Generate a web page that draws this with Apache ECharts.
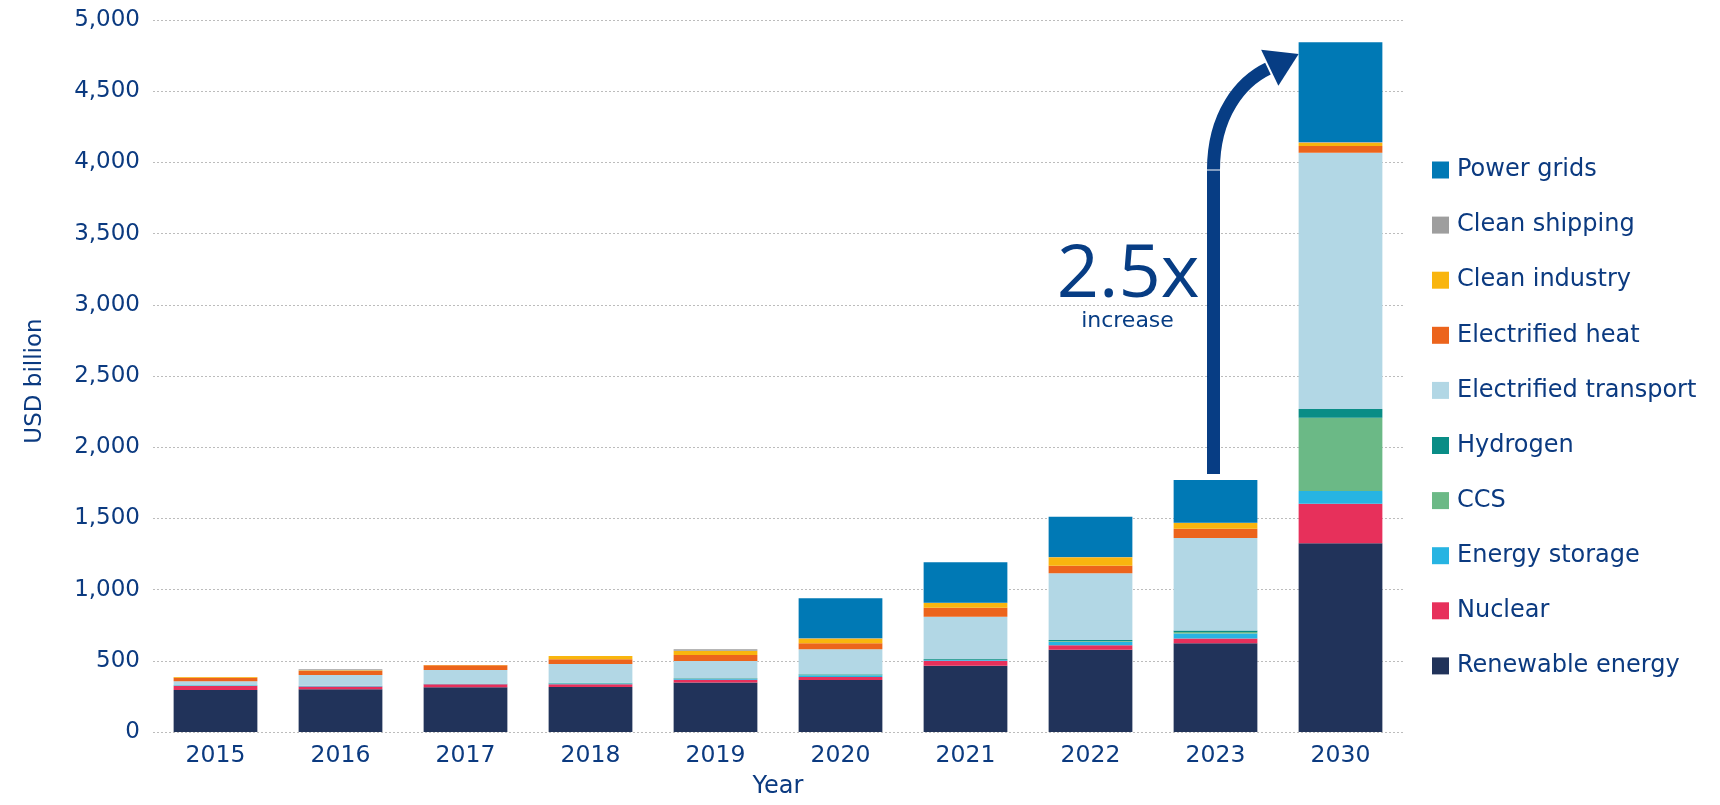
<!DOCTYPE html>
<html>
<head>
<meta charset="utf-8">
<script src="https://cdn.jsdelivr.net/npm/echarts@6/dist/echarts.min.js"></script>
<style>
html,body{margin:0;padding:0;background:#fff;}
#c{width:1720px;height:805px;}
</style>
</head>
<body>
<div id="c"></div>
<script>
// ---- data ----
const years = ['2015','2016','2017','2018','2019','2020','2021','2022','2023','2030'];
const renewable = [295, 300, 315, 316, 347, 365, 466, 578, 623, 1325];
const nuclear   = [28, 20, 20, 20, 20, 22, 34, 31, 33, 278];
const storage   = [3, 3, 4, 5, 5, 12, 5, 25, 36, 89];
const ccs       = [1, 1, 1, 2, 2, 3, 2, 5, 11, 515];
const hydrogen  = [1, 1, 1, 2, 3, 4, 6, 7, 10, 61];
const transport = [28, 75, 94, 133, 122, 175, 297, 468, 650, 1800];
const heat      = [25, 30, 33, 33, 42, 42, 63, 54, 64, 47];
const industry  = [5, 3, 2, 23, 29, 33, 33, 60, 40, 23];
const shipping  = [0, 8, 0, 0, 11, 2, 2, 1, 2, 5];
const grids     = [0, 0, 0, 0, 0, 281, 284, 283, 300, 700];
const yTicks = [0, 500, 1000, 1500, 2000, 2500, 3000, 3500, 4000, 4500, 5000];
const annotationMain = '2.5x';
const annotationSub = 'increase';

const seriesDefs = [
  ['Renewable energy', renewable, '#21335a'],
  ['Nuclear', nuclear, '#e7305b'],
  ['Energy storage', storage, '#27b4e2'],
  ['CCS', ccs, '#6bb986'],
  ['Hydrogen', hydrogen, '#098d86'],
  ['Electrified transport', transport, '#b2d7e5'],
  ['Electrified heat', heat, '#ec641c'],
  ['Clean industry', industry, '#f9b50e'],
  ['Clean shipping', shipping, '#9e9e9e'],
  ['Power grids', grids, '#0079b5']
];

const TXT = '#0b3a80';
const ARROW = '#073d84';
const FONT = 'DejaVu Sans';

const chart = echarts.init(document.getElementById('c'), null, {renderer: 'canvas'});

const option = {
  animation: false,
  backgroundColor: '#fff',
  textStyle: {fontFamily: FONT},
  grid: {left: 153, right: 317, top: 20, bottom: 73, containLabel: false},
  legend: {
    orient: 'vertical',
    left: 1427,
    top: 153,
    itemWidth: 17,
    itemHeight: 17,
    itemGap: 31.1,
    icon: 'rect',
    data: seriesDefs.map(d => d[0]).reverse(),
    textStyle: {color: TXT, fontSize: 24, lineHeight: 23.3, fontFamily: FONT, padding: [0, 0, 0, 3]}
  },
  xAxis: {
    type: 'category',
    data: years,
    axisLine: {show: false},
    axisTick: {show: false},
    axisLabel: {color: TXT, fontSize: 23.5, margin: 12, fontFamily: FONT},
    name: 'Year',
    nameLocation: 'middle',
    nameGap: 43,
    nameTextStyle: {color: TXT, fontSize: 24, fontFamily: FONT}
  },
  yAxis: {
    type: 'value',
    min: yTicks[0],
    max: yTicks[yTicks.length - 1],
    interval: yTicks[1] - yTicks[0],
    axisLine: {show: false},
    axisTick: {show: false},
    axisLabel: {
      color: TXT, fontSize: 23, margin: 13, fontFamily: FONT,
      formatter: v => v.toLocaleString('en-US')
    },
    splitLine: {lineStyle: {color: '#bcbcbc', type: [2, 2], width: 1}},
    name: 'USD billion',
    nameLocation: 'middle',
    nameGap: 106,
    nameRotate: 90,
    nameTextStyle: {color: TXT, fontSize: 23, fontFamily: FONT, padding: [0, 10, 0, 0]}
  },
  series: seriesDefs.map(d => ({
    name: d[0],
    type: 'bar',
    stack: 'total',
    data: d[1],
    barCategoryGap: '33%',
    itemStyle: {color: d[2]},
    emphasis: {disabled: true}
  }))
};
chart.setOption(option);

// ---- annotation arrow, positioned from the axes ----
const cx = chart.convertToPixel({xAxisIndex: 0}, '2023');
const cx2 = chart.convertToPixel({xAxisIndex: 0}, '2030');
const yBot = chart.convertToPixel({yAxisIndex: 0}, 1812);
const yBend = chart.convertToPixel({yAxisIndex: 0}, 3950);
const yTip = chart.convertToPixel({yAxisIndex: 0}, 4840);
const step = cx2 - cx; // category width
const sx = cx - 2;
const p3x = sx + 0.45 * step, p3y = yTip + 25;
const p2x = sx + 0.22 * step, p2y = yBend - 88;
const p1x = sx, p1y = yBend - 55;
let dx = p3x - p2x, dy = p3y - p2y; const L = Math.hypot(dx, dy); dx /= L; dy /= L;
const head = 32, half = 20;
const tipX = p3x + dx * head, tipY = p3y + dy * head;
const b1x = p3x - dy * half, b1y = p3y + dx * half;
const b2x = p3x + dy * half, b2y = p3y - dx * half;
const yMainC = chart.convertToPixel({yAxisIndex: 0}, 3205);
const ySubC = chart.convertToPixel({yAxisIndex: 0}, 2886);

chart.setOption({
  graphic: [
    {
      type: 'line',
      shape: {x1: sx, y1: yBot, x2: sx, y2: yBend + 1},
      style: {stroke: ARROW, lineWidth: 13, lineCap: 'butt'},
      z: 100
    },
    {
      type: 'bezierCurve',
      shape: {x1: sx, y1: yBend, cpx1: p1x, cpy1: p1y, cpx2: p2x, cpy2: p2y, x2: p3x - dx * 2, y2: p3y - dy * 2},
      style: {stroke: ARROW, lineWidth: 13, fill: null, lineCap: 'butt'},
      z: 100
    },
    {
      type: 'polygon',
      shape: {points: [[tipX, tipY], [b1x, b1y], [b2x, b2y]]},
      style: {fill: ARROW},
      z: 100
    },
    {
      type: 'text',
      style: {text: annotationMain, x: sx - 14, y: yMainC, align: 'right', verticalAlign: 'middle',
        fontSize: 74, fontFamily: 'Open Sans', fill: ARROW},
      z: 100
    },
    {
      type: 'text',
      style: {text: annotationSub, x: sx - 86, y: ySubC, align: 'center', verticalAlign: 'middle',
        fontSize: 22, fontFamily: FONT, fill: ARROW},
      z: 100
    }
  ]
});
</script>
</body>
</html>
